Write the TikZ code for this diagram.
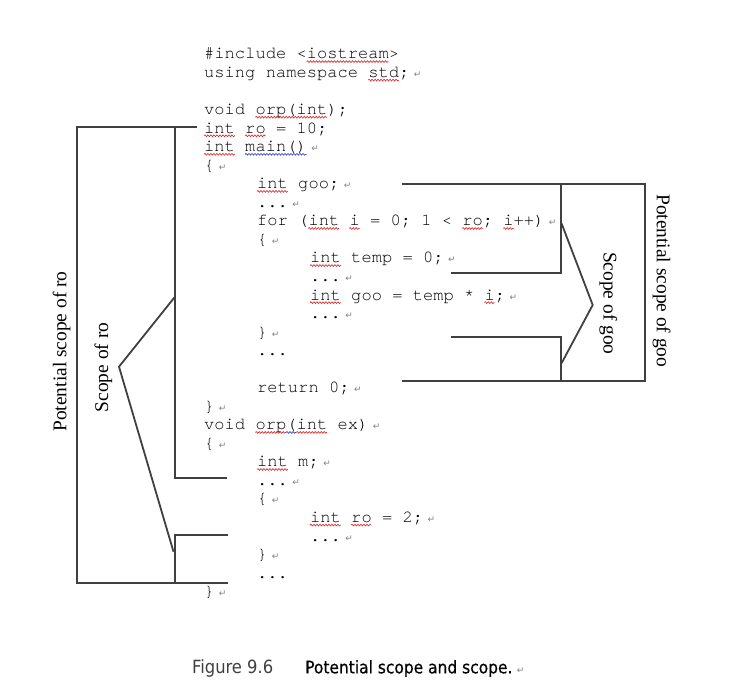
\documentclass[tikz,border=0pt]{standalone}
\usepackage{fontspec}
\setmainfont{Liberation Serif}
\newfontfamily\codefont{texgyrecursor-regular.otf}
\newfontfamily\retfont{DejaVu Sans}
\newfontfamily\capfont{DejaVu Sans Condensed}
\newfontfamily\capboldfont[FakeBold=0.5]{DejaVu Sans Condensed}
\usetikzlibrary{decorations.pathmorphing}
\definecolor{linegray}{HTML}{404040}
\definecolor{retgray}{HTML}{808080}
\definecolor{capgray}{HTML}{404040}
\definecolor{sqred}{HTML}{E02020}
\definecolor{sqblue}{HTML}{2030D0}
\newcommand\rt{\hspace{4.5pt}{\retfont\fontsize{9}{9}\selectfont\textcolor{retgray}{↵}}}
\newcommand\sq[5]{\draw[squig,#5] ({#1+#3*10.26},{#2+2.6}) -- ({#1+(#3+#4)*10.26},{#2+2.6});}
\tikzset{
  code/.style={font=\codefont\fontsize{17.1}{18}\selectfont, anchor=base west, inner sep=0pt, text=black},
  lab/.style={font=\fontsize{19.4}{20}\selectfont, inner sep=0pt, text=black},
  scopeline/.style={draw=linegray, line width=1.8pt, line join=miter},
  squig/.style={line width=0.6pt, decorate, decoration={snake, amplitude=0.9pt, segment length=3pt}},
  capt/.style={anchor=base west, inner sep=0pt}
}
\begin{document}
\begin{tikzpicture}[x=1pt,y=-1pt]
\useasboundingbox (0,0) rectangle (735,698);
% code
\node[code] (l0)  at (204,59)     {\#include <iostream>};
\node[code] (l1)  at (204,77.54)  {using namespace std;\rt};
\node[code] (l3)  at (204,114.62) {void orp(int);};
\node[code] (l4)  at (204,133.16) {int ro = 10;};
\node[code] (l5)  at (204,151.70) {int main()\rt};
\node[code] (l6)  at (204,170.24) {\{\rt};
\node[code] (l7)  at (257,188.78) {int goo;\rt};
\node[code] (l8)  at (257,207.32) {...\rt};
\node[code] (l9)  at (257,225.86) {for (int i = 0; 1 < ro; i++)\rt};
\node[code] (l10) at (257,244.40) {\{\rt};
\node[code] (l11) at (310,262.94) {int temp = 0;\rt};
\node[code] (l12) at (310,281.48) {...\rt};
\node[code] (l13) at (310,300.02) {int goo = temp * i;\rt};
\node[code] (l14) at (310,318.56) {...\rt};
\node[code] (l15) at (257,337.10) {\}\rt};
\node[code] (l16) at (257,355.64) {...};
\node[code] (l18) at (257,392.72) {return 0;\rt};
\node[code] (l19) at (204,411.26) {\}\rt};
\node[code] (l20) at (204,429.80) {void orp(int ex)\rt};
\node[code] (l21) at (204,448.34) {\{\rt};
\node[code] (l22) at (257,466.88) {int m;\rt};
\node[code] (l23) at (257,485.42) {...\rt};
\node[code] (l24) at (257,503.96) {\{\rt};
\node[code] (l25) at (310,522.50) {int ro = 2;\rt};
\node[code] (l26) at (310,541.04) {...\rt};
\node[code] (l27) at (257,559.58) {\}\rt};
\node[code] (l28) at (257,578.12) {...};
\node[code] (l29) at (204,596.66) {\}\rt};
% squiggles
\sq{204}{59}{10}{8}{sqred}
\sq{204}{77.54}{16}{3}{sqred}
\sq{204}{114.62}{5}{7}{sqred}
\sq{204}{133.16}{0}{3}{sqred}
\sq{204}{133.16}{4}{2}{sqred}
\sq{204}{151.70}{0}{3}{sqred}
\sq{204}{151.70}{4}{6}{sqblue}
\sq{257}{188.78}{0}{3}{sqred}
\sq{257}{225.86}{5}{3}{sqred}
\sq{257}{225.86}{9}{1}{sqred}
\sq{257}{225.86}{20}{2}{sqred}
\sq{257}{225.86}{24}{1}{sqred}
\sq{310}{262.94}{0}{3}{sqred}
\sq{310}{300.02}{0}{3}{sqred}
\sq{310}{300.02}{17}{1}{sqred}
\sq{204}{429.80}{5}{3}{sqred}
\sq{204}{429.80}{8}{1}{sqblue}
\sq{204}{429.80}{9}{3}{sqred}
\sq{257}{466.88}{0}{3}{sqred}
\sq{310}{522.50}{0}{3}{sqred}
\sq{310}{522.50}{4}{2}{sqred}
% scope of ro
\coordinate (roTL) at (76.7,126.7);
\coordinate (roBL) at (76.7,583.3);
\draw[scopeline] (196.7,126.7) -- (roTL) -- (roBL) -- (228,583.3);
\draw[scopeline] (175,126.7) -- (175,478.3) -- (226.7,478.3);
\draw[scopeline] (228,535) -- (175,535) -- (175,583.3);
\coordinate (roTip) at (119,366.7);
\draw[scopeline] (175,296.7) -- (roTip) -- (173.5,551.7);
\node[lab, rotate=90] (psro) at (61.7,351.5) {Potential scope of ro};
\node[lab, rotate=90] (sro) at (103.3,367.5) {Scope of ro};
% scope of goo
\draw[scopeline] (401.7,184) -- (645,184) -- (645,380.7) -- (401.7,380.7);
\draw[scopeline] (560.7,184) -- (560.7,273.3) -- (451,273.3);
\draw[scopeline] (451,336.7) -- (560.7,336.7) -- (560.7,380.7);
\coordinate (gooTip) at (592.7,305);
\draw[scopeline] (561.5,223.3) -- (gooTip) -- (561.5,363.3);
\node[lab, rotate=-90] (sgoo) at (608.3,303.3) {Scope of goo};
\node[lab, rotate=-90] (psgoo) at (661.7,280.8) {Potential scope of goo};
% caption
\node[capt, text=capgray, font=\capfont\fontsize{18.2}{20}\selectfont] (fig) at (192,673.3) {Figure 9.6};
\node[capt, text=black, font=\capboldfont\fontsize{17.2}{20}\selectfont] (cap) at (305,673.3) {Potential scope and scope.\rt};
\end{tikzpicture}
\end{document}
